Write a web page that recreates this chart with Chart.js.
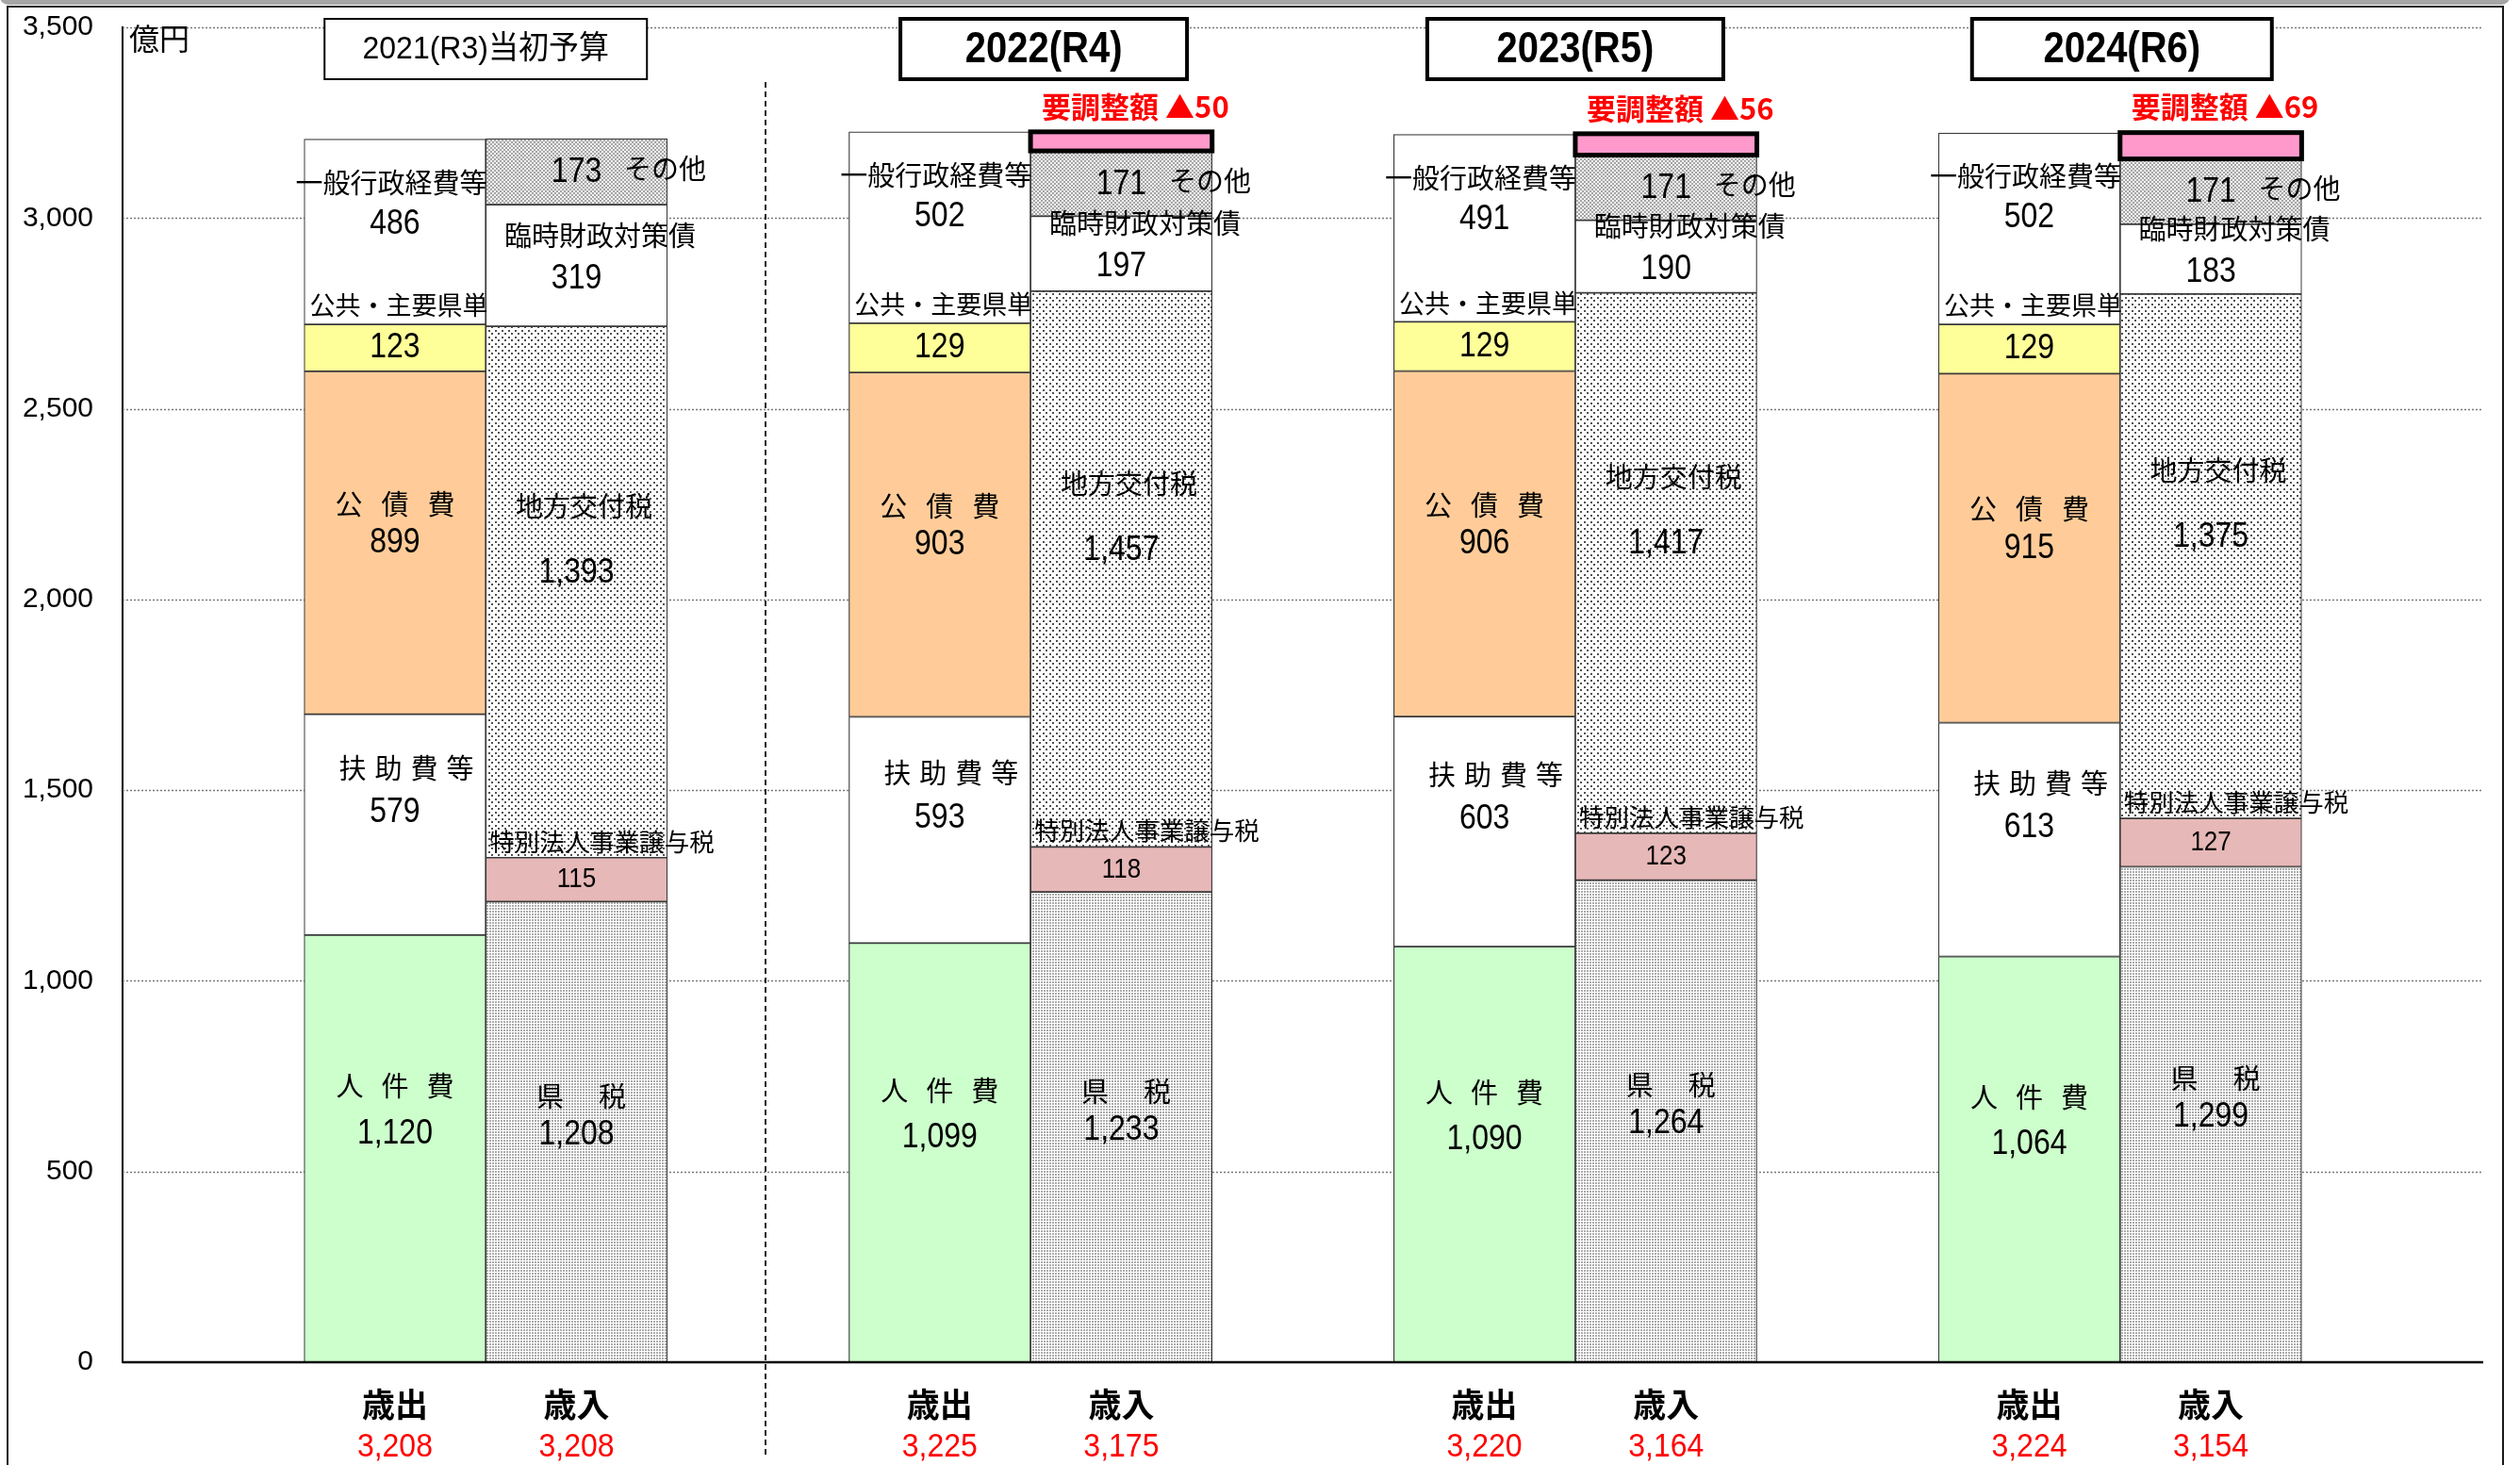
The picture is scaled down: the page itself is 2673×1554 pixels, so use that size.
<!DOCTYPE html>
<html lang="ja">
<head>
<meta charset="utf-8">
<title>歳出・歳入の見通し</title>
<script src="https://cdn.jsdelivr.net/npm/chart.js@4.4.1/dist/chart.umd.min.js"></script>
<style>
    html, body { margin: 0; padding: 0; background: #fff; }
    #wrap { width: 2673px; height: 1554px; }
</style>
</head>
<body>
<div id="wrap"><canvas id="budgetChart" width="2673" height="1554"></canvas></div>
<script>
// 年度・区分
const yearTitles = ['2021(R3)当初予算', '2022(R4)', '2023(R5)', '2024(R6)'];
const sideNames = ['歳出', '歳入'];
const expenditureTotals = [3208, 3225, 3220, 3224];
const revenueTotals = [3208, 3175, 3164, 3154];

// 歳出（下から積み上げ）
const personnelCost = [1120, 1099, 1090, 1064];
const assistanceCost = [579, 593, 603, 613];
const debtService = [899, 903, 906, 915];
const publicWorks = [123, 129, 129, 129];
const generalAdmin = [486, 502, 491, 502];

// 歳入（下から積み上げ）
const prefTax = [1208, 1233, 1264, 1299];
const specialCorpTax = [115, 118, 123, 127];
const localAllocTax = [1393, 1457, 1417, 1375];
const tempFiscalBonds = [319, 197, 190, 183];
const otherRevenue = [173, 171, 171, 171];
const adjustmentNeeded = [null, 50, 56, 69];

// 縦軸目盛
const yTicks = [0, 500, 1000, 1500, 2000, 2500, 3000, 3500];

const JP = '"Noto Sans CJK JP", sans-serif';
const NUM = '"Liberation Sans", "Noto Sans CJK JP", sans-serif';

const canvas = document.getElementById('budgetChart');
const ctx = canvas.getContext('2d');

// each year takes three slots: 歳出, 歳入, gap
const SLOT_COUNT = yearTitles.length * 3 + 1;
const slotOf = (year, side) => 1 + year * 3 + side;
const slotLabels = Array.from({ length: SLOT_COUNT }, (_, i) => (i % 3 === 0 ? '' : sideNames[(i % 3) - 1]));

function spread(values, side) {
    const out = new Array(SLOT_COUNT).fill(null);
    values.forEach((v, i) => { out[slotOf(i, side)] = v; });
    return out;
}

// hatch fills like the excel patterns
function makePattern(size, bg, fg, dots) {
    const c = document.createElement('canvas');
    c.width = size;
    c.height = size;
    const g = c.getContext('2d');
    g.fillStyle = bg;
    g.fillRect(0, 0, size, size);
    g.fillStyle = fg;
    dots.forEach(([x, y, s]) => g.fillRect(x, y, s, s));
    return ctx.createPattern(c, 'repeat');
}
const prefTaxFill = makePattern(3, '#ffffff', '#ababab', [[0, 0, 2]]);
const localTaxFill = makePattern(7, '#ffffff', '#505050', [[0, 0, 2], [3, 3, 2]]);
const otherFill = makePattern(4, '#f2f2f2', '#a6a6a6', [[0, 0, 2], [2, 2, 2]]);

const segments = [
    { key: 'personnel', side: 0, values: personnelCost, fill: '#CCFFCC' },
    { key: 'assistance', side: 0, values: assistanceCost, fill: '#FFFFFF' },
    { key: 'debt', side: 0, values: debtService, fill: '#FFCC99' },
    { key: 'publicWorks', side: 0, values: publicWorks, fill: '#FFFF99' },
    { key: 'generalAdmin', side: 0, values: generalAdmin, fill: '#FFFFFF' },
    { key: 'prefTax', side: 1, values: prefTax, fill: prefTaxFill },
    { key: 'specialCorp', side: 1, values: specialCorpTax, fill: '#E6B8B7' },
    { key: 'localAlloc', side: 1, values: localAllocTax, fill: localTaxFill },
    { key: 'tempBonds', side: 1, values: tempFiscalBonds, fill: '#FFFFFF' },
    { key: 'other', side: 1, values: otherRevenue, fill: otherFill },
    { key: 'adjust', side: 1, values: adjustmentNeeded, fill: '#FF99CC' }
];

// where each segment's name and number sit (px from the segment middle or top)
const labelLayout = {
    personnel:    { text: '人件費', gap: 19, ref: 'mid', dx: 0, dy: -66, numRef: 'mid', numDy: -16 },
    assistance:   { text: '扶助費等', gap: 9, ref: 'mid', dx: 12, dy: -60, numRef: 'mid', numDy: -13 },
    debt:         { text: '公債費', gap: 20, ref: 'mid', dx: 0, dy: -41, numRef: 'mid', numDy: 0 },
    publicWorks:  { text: '公共・主要県単', gap: 0, size: 27, ref: 'top', dx: 4, dy: -20, numRef: 'mid', numDy: 0 },
    generalAdmin: { text: '一般行政経費等', gap: 0, ref: 'top', dx: -4, dy: 46, numRef: 'top', numDy: 90 },
    prefTax:      { text: '県税', gap: 37, ref: 'mid', dx: 5, dy: -38, numRef: 'mid', numDy: 3 },
    specialCorp:  { text: '特別法人事業譲与税', gap: 0, size: 26.5, ref: 'top', dx: 27, dy: -17, numRef: 'mid', numDy: 0, numSize: 26 },
    localAlloc:   { text: '地方交付税', gap: 0, ref: 'mid', dx: 8, dy: -91, numRef: 'mid', numDy: -20 },
    tempBonds:    { text: '臨時財政対策債', gap: 0, ref: 'mid', dx: 25, dy: -32, numRef: 'mid', numDy: 14 },
    other:        { text: 'その他', gap: 0, ref: 'mid', dx: 94, dy: -3, numRef: 'mid', numDy: 1 }
};

const titleBoxWidths = [342, 304, 314, 318];
const titleBoxShift = [0, 14, 0, 2];

function spacedText(c, text, x, y, gap) {
    if (!gap) {
        c.textAlign = 'center';
        c.fillText(text, x, y);
        return;
    }
    const chars = [...text];
    const widths = chars.map(ch => c.measureText(ch).width);
    const total = widths.reduce((a, b) => a + b, 0) + gap * (chars.length - 1);
    let cx = x - total / 2;
    c.textAlign = 'left';
    chars.forEach((ch, i) => {
        c.fillText(ch, cx, y);
        cx += widths[i] + gap;
    });
}

// the source font has tall narrow digits, so stretch numbers a little
function tallText(c, text, x, y, stretch) {
    c.save();
    c.translate(x, y);
    c.scale(1, stretch);
    c.fillText(text, 0, 0);
    c.restore();
}

const fmt = v => v.toLocaleString('en-US');

// white page, grey shadow strip and chart frame
const framePlugin = {
    id: 'frame',
    beforeDraw(chart) {
        const c = chart.ctx;
        c.save();
        c.fillStyle = '#ffffff';
        c.fillRect(0, 0, chart.width, chart.height);
        c.fillStyle = '#a6a6a6';
        c.beginPath();
        c.roundRect(0, -12, 2662, 17, 10);
        c.fill();
        c.strokeStyle = '#1a1a1a';
        c.lineWidth = 2;
        c.strokeRect(8, 7, 2647, 1570);
        c.restore();
    }
};

// dotted gridlines and the dashed separator after the first year
const gridPlugin = {
    id: 'gridLines',
    beforeDatasetsDraw(chart) {
        const c = chart.ctx;
        const { left, right } = chart.chartArea;
        const y = chart.scales.y;
        const x = chart.scales.x;
        c.save();
        c.strokeStyle = '#7a7a7a';
        c.lineWidth = 1.5;
        c.setLineDash([2, 2]);
        yTicks.filter(v => v > 0).forEach(v => {
            const py = Math.round(y.getPixelForValue(v)) + 0.5;
            c.beginPath();
            c.moveTo(left, py);
            c.lineTo(right, py);
            c.stroke();
        });
        c.strokeStyle = '#222';
        c.lineWidth = 2;
        c.setLineDash([6, 4]);
        const sx = Math.round(x.getPixelForValue(3)) + 8;
        c.beginPath();
        c.moveTo(sx, 87);
        c.lineTo(sx, 1543);
        c.stroke();
        c.restore();
    },
    afterDatasetsDraw(chart) {
        const c = chart.ctx;
        const { left, right } = chart.chartArea;
        const py = chart.scales.y.getPixelForValue(0);
        c.save();
        c.strokeStyle = '#000';
        c.lineWidth = 2.5;
        c.beginPath();
        c.moveTo(left, py);
        c.lineTo(right, py);
        c.stroke();
        c.restore();
    }
};

// segment names, values, year titles and 歳出/歳入 totals
const labelPlugin = {
    id: 'segmentLabels',
    afterDatasetsDraw(chart) {
        const c = chart.ctx;
        c.save();
        c.fillStyle = '#000';
        c.textBaseline = 'middle';

        segments.forEach((seg, d) => {
            const meta = chart.getDatasetMeta(d);
            seg.values.forEach((v, i) => {
                if (v == null) return;
                const el = meta.data[slotOf(i, seg.side)];
                const top = Math.min(el.y, el.base);
                const bottom = Math.max(el.y, el.base);
                const mid = (top + bottom) / 2;

                if (seg.key === 'adjust') {
                    c.strokeStyle = '#000';
                    c.lineWidth = 5;
                    c.strokeRect(el.x - el.width / 2, top, el.width, bottom - top);
                    c.fillStyle = '#FF0000';
                    c.font = 'bold 31px "Noto Sans CJK JP", "Liberation Sans", sans-serif';
                    c.textAlign = 'center';
                    c.fillText('要調整額 ▲' + v, el.x + 15, top - 27);
                    c.fillStyle = '#000';
                    return;
                }

                const L = labelLayout[seg.key];
                c.font = (L.size || 29) + 'px ' + JP;
                const ny = (L.ref === 'top' ? top : mid) + L.dy;
                spacedText(c, L.text, el.x + L.dx, ny, L.gap);

                c.font = (L.numSize || 32) + 'px ' + NUM;
                c.textAlign = 'center';
                const vy = (L.numRef === 'top' ? top : mid) + L.numDy;
                tallText(c, fmt(v), el.x, vy, 1.15);
            });
        });

        // year title boxes
        const x = chart.scales.x;
        yearTitles.forEach((title, i) => {
            const cx = (x.getPixelForValue(slotOf(i, 0)) + x.getPixelForValue(slotOf(i, 1))) / 2 + titleBoxShift[i];
            const w = titleBoxWidths[i];
            const first = i === 0;
            c.fillStyle = '#fff';
            c.fillRect(cx - w / 2, 20, w, 64);
            c.strokeStyle = '#000';
            c.lineWidth = first ? 2 : 4;
            c.strokeRect(cx - w / 2, 20, w, 64);
            c.fillStyle = '#000';
            c.textAlign = 'center';
            c.font = (first ? '32px ' : 'bold 40px ') + NUM;
            tallText(c, title, cx, 53, first ? 1.05 : 1.15);

            // 歳出 / 歳入 labels with totals underneath
            [expenditureTotals[i], revenueTotals[i]].forEach((total, side) => {
                const px = x.getPixelForValue(slotOf(i, side));
                c.fillStyle = '#000';
                c.font = 'bold 35px ' + JP;
                c.fillText(sideNames[side], px, 1490);
                c.fillStyle = '#FF0000';
                c.font = '32px ' + NUM;
                tallText(c, fmt(total), px, 1535, 1.1);
            });
        });

        // unit
        c.fillStyle = '#000';
        c.font = '32px ' + JP;
        c.textAlign = 'left';
        c.fillText('億円', chart.chartArea.left + 7, 41);
        c.restore();
    }
};

const datasets = segments.map(seg => ({
    label: seg.key,
    data: spread(seg.values, seg.side),
    backgroundColor: seg.fill,
    borderColor: '#3a3a3a',
    borderWidth: seg.key === 'adjust' ? 0 : 1.2,
    borderSkipped: false,
    categoryPercentage: 1,
    barPercentage: 1
}));

new Chart(ctx, {
    type: 'bar',
    data: { labels: slotLabels, datasets: datasets },
    options: {
        responsive: false,
        animation: false,
        events: [],
        layout: { padding: { left: 8, right: 39, top: 29, bottom: 109 } },
        plugins: {
            legend: { display: false },
            tooltip: { enabled: false }
        },
        scales: {
            x: { stacked: true, display: false },
            y: {
                stacked: true,
                min: 0,
                max: 3500,
                afterBuildTicks: scale => { scale.ticks = yTicks.map(v => ({ value: v })); },
                afterFit: scale => {
                    scale.width = 122;
                    scale.paddingTop = 0;
                    scale.paddingBottom = 0;
                },
                ticks: {
                    color: '#000',
                    padding: 31,
                    font: { family: NUM, size: 30 },
                    callback: v => fmt(v)
                },
                grid: { display: false, drawTicks: false },
                border: { display: true, color: '#000', width: 2 }
            }
        }
    },
    plugins: [framePlugin, gridPlugin, labelPlugin]
});
</script>
</body>
</html>
